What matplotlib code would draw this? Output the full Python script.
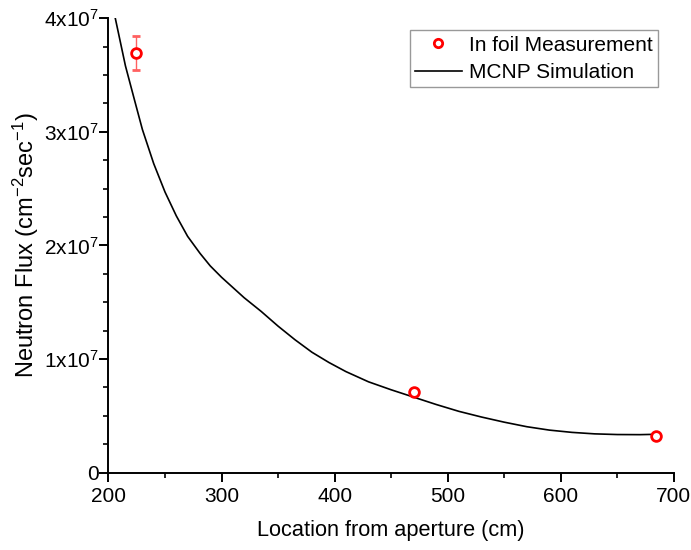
"""
neutron flux vs location from aperture: foil measurement and MCNP simulation
"""
import matplotlib.pyplot as plt
from matplotlib.lines import Line2D
from matplotlib.ticker import FuncFormatter, MultipleLocator

plt.rcParams['font.family'] = ['Liberation Sans', 'DejaVu Sans']
plt.rcParams['mathtext.fontset'] = 'custom'
plt.rcParams['mathtext.rm'] = 'Liberation Sans'
plt.rcParams['mathtext.it'] = 'Liberation Sans:italic'
plt.rcParams['axes.unicode_minus'] = False

# foil measurements (flux in units of 1e7)
meas_x = [224, 470, 684]
meas_y = [3.69, 0.71, 0.325]
meas_err = [0.15, 0.0, 0.0]

# MCNP simulation curve (flux in units of 1e7)
sim_x = [206, 215, 223, 230, 240, 250, 260, 270, 281, 290, 300, 310, 320,
         335, 350, 365, 380, 395, 410, 430, 450, 470, 490, 510, 530, 550,
         570, 590, 610, 630, 650, 670, 684]
sim_y = [4.0, 3.58, 3.28, 3.02, 2.72, 2.47, 2.26, 2.08, 1.93, 1.82, 1.72,
         1.63, 1.54, 1.42, 1.29, 1.17, 1.06, 0.97, 0.89, 0.80, 0.73, 0.665,
         0.60, 0.54, 0.49, 0.445, 0.405, 0.375, 0.355, 0.342, 0.336, 0.335,
         0.338]

scale = 1e7

fig = plt.figure(figsize=(6.91, 5.5), dpi=100)
ax = fig.add_axes((0.157, 0.1405, 0.818, 0.8265))

ax.plot(sim_x, [v * scale for v in sim_y], color='black', lw=1.2, zorder=2)
ax.errorbar(meas_x, [v * scale for v in meas_y],
            yerr=[e * scale for e in meas_err], fmt='o', ms=7,
            mfc='white', mec='red', mew=2, ecolor='#ff6060', elinewidth=1,
            capsize=3, capthick=1, zorder=3)

ax.set_xlim(200, 700)
ax.set_ylim(0, 4e7)
ax.spines['right'].set_visible(False)
ax.spines['top'].set_visible(False)
ax.spines['left'].set_linewidth(1.4)
ax.spines['bottom'].set_linewidth(1.4)

ax.xaxis.set_major_locator(MultipleLocator(100))
ax.xaxis.set_minor_locator(MultipleLocator(50))
ax.yaxis.set_major_locator(MultipleLocator(1e7))
ax.yaxis.set_minor_locator(MultipleLocator(0.25e7))


def yfmt(v, pos):
    n = int(round(v / scale))
    if n == 0:
        return '0'
    return '%dx10$^{7}$' % n


ax.yaxis.set_major_formatter(FuncFormatter(yfmt))
ax.tick_params(which='major', direction='out', length=6.5, width=1.4,
               labelsize=15)
ax.tick_params(which='minor', direction='out', length=3.5, width=1.2)
ax.tick_params(axis='y', which='major', pad=0.5)

ax.set_xlabel('Location from aperture (cm)', fontsize=15.7, labelpad=10)
ax.set_ylabel('Neutron Flux (cm$^{-2}$sec$^{-1}$)', fontsize=17, labelpad=2)

handles = [
    Line2D([], [], ls='none', marker='o', ms=6, mfc='white', mec='red',
           mew=2),
    Line2D([], [], color='black', lw=1.2),
]
labels = ['In foil Measurement', 'MCNP Simulation']
leg = ax.legend(handles, labels, loc='upper right',
                bbox_to_anchor=(0.972, 0.973), fontsize=15, frameon=True,
                fancybox=False, edgecolor='gray', handlelength=2.25,
                borderpad=0.25, borderaxespad=0, labelspacing=0.4,
                handletextpad=0.35)
leg.get_frame().set_linewidth(1)

fig.savefig('out.png', dpi=100)
